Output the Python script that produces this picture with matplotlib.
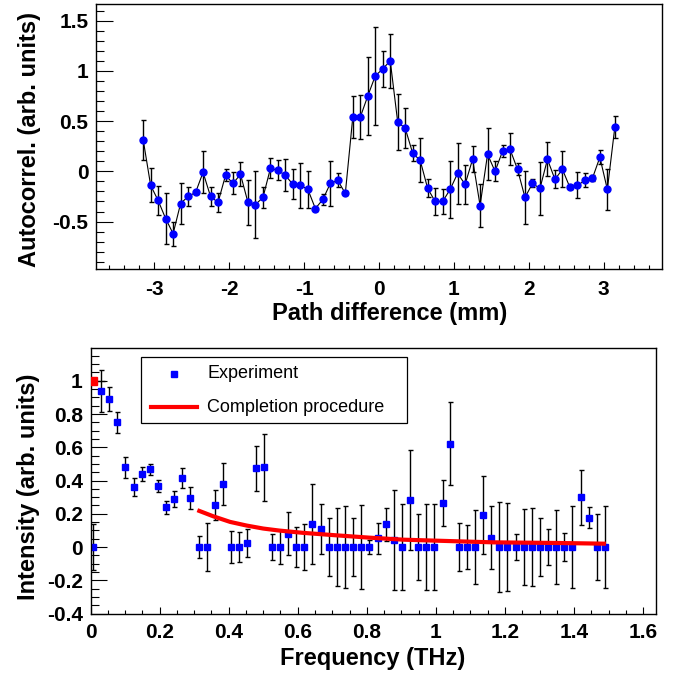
import matplotlib
matplotlib.use("Agg")
import matplotlib.pyplot as plt
from matplotlib.ticker import MultipleLocator
from matplotlib.patches import Rectangle
from matplotlib.lines import Line2D

# ---- top panel: autocorrelation ----
path_mm = [-3.15, -3.05, -2.95, -2.85, -2.75, -2.65, -2.55, -2.45, -2.35, -2.25,
           -2.15, -2.05, -1.95, -1.85, -1.75, -1.65, -1.55, -1.45, -1.35, -1.25,
           -1.15, -1.05, -0.95, -0.85, -0.75, -0.65, -0.55, -0.45, -0.35, -0.25,
           -0.15, -0.05, 0.05, 0.15, 0.25, 0.35, 0.45, 0.55, 0.65, 0.75,
           0.85, 0.95, 1.05, 1.15, 1.25, 1.35, 1.45, 1.55, 1.65, 1.75,
           1.85, 1.95, 2.05, 2.15, 2.25, 2.35, 2.45, 2.55, 2.65, 2.75,
           2.85, 2.95, 3.05, 3.15]
autocorr = [0.315, -0.14, -0.29, -0.47, -0.62, -0.32, -0.25, -0.21, -0.01, -0.25,
            -0.31, -0.04, -0.12, -0.03, -0.31, -0.33, -0.26, 0.03, 0.01, -0.04,
            -0.13, -0.14, -0.18, -0.37, -0.28, -0.12, -0.09, -0.22, 0.54, 0.54,
            0.75, 0.95, 1.02, 1.10, 0.49, 0.43, 0.18, 0.11, -0.17, -0.30,
            -0.30, -0.18, -0.02, -0.13, 0.12, -0.34, 0.17, 0.0, 0.20, 0.22,
            0.02, -0.26, -0.12, -0.17, 0.12, -0.08, 0.02, -0.16, -0.14, -0.09,
            -0.07, 0.14, -0.18, 0.44]
autocorr_err = [0.20, 0.17, 0.14, 0.25, 0.12, 0.20, 0.09, 0.02, 0.21, 0.09,
                0.09, 0.06, 0.11, 0.12, 0.22, 0.33, 0.10, 0.10, 0.10, 0.16,
                0.15, 0.22, 0.18, 0.02, 0.05, 0.22, 0.07, 0.02, 0.21, 0.22,
                0.39, 0.49, 0.18, 0.27, 0.28, 0.20, 0.08, 0.22, 0.09, 0.13,
                0.12, 0.28, 0.30, 0.19, 0.13, 0.21, 0.26, 0.10, 0.06, 0.16,
                0.06, 0.26, 0.04, 0.26, 0.17, 0.09, 0.18, 0.02, 0.13, 0.07,
                0.03, 0.07, 0.20, 0.11]

# ---- bottom panel: spectrum ----
freq_thz = [0.007, 0.031, 0.054, 0.078, 0.101, 0.125, 0.148, 0.172, 0.195, 0.219,
            0.242, 0.266, 0.289, 0.313, 0.336, 0.360, 0.383, 0.407, 0.431, 0.454,
            0.478, 0.501, 0.525, 0.548, 0.572, 0.595, 0.619, 0.642, 0.666, 0.689,
            0.713, 0.736, 0.760, 0.783, 0.807, 0.831, 0.854, 0.878, 0.901, 0.925,
            0.948, 0.972, 0.995, 1.019, 1.042, 1.066, 1.089, 1.113, 1.136, 1.160,
            1.183, 1.207, 1.231, 1.254, 1.278, 1.301, 1.325, 1.348, 1.372, 1.395,
            1.419, 1.442, 1.466, 1.489]
intensity = [0.0, 0.936, 0.891, 0.75, 0.479, 0.36, 0.437, 0.467, 0.368, 0.239,
             0.288, 0.416, 0.292, 0.0, 0.0, 0.25, 0.38, 0.0, 0.0, 0.022,
             0.473, 0.479, 0.0, 0.0, 0.08, 0.0, 0.0, 0.137, 0.109, 0.0,
             0.0, 0.0, 0.0, 0.0, 0.0, 0.052, 0.137, 0.04, 0.0, 0.282,
             0.0, 0.0, 0.0, 0.264, 0.622, 0.0, 0.0, 0.0, 0.193, 0.056,
             0.0, 0.0, 0.0, 0.0, 0.0, 0.0, 0.0, 0.0, 0.0, 0.0,
             0.298, 0.177, 0.0, 0.0]
intensity_err = [0.14, 0.126, 0.07, 0.065, 0.065, 0.053, 0.043, 0.032, 0.035, 0.04,
                 0.05, 0.06, 0.066, 0.066, 0.143, 0.09, 0.125, 0.097, 0.088, 0.084,
                 0.135, 0.20, 0.08, 0.10, 0.13, 0.12, 0.14, 0.24, 0.15, 0.175,
                 0.235, 0.245, 0.177, 0.25, 0.044, 0.093, 0.10, 0.30, 0.26, 0.30,
                 0.197, 0.257, 0.26, 0.14, 0.25, 0.145, 0.13, 0.225, 0.233, 0.19,
                 0.268, 0.262, 0.076, 0.231, 0.235, 0.177, 0.107, 0.221, 0.087, 0.247,
                 0.168, 0.063, 0.20, 0.248]

# completion procedure curve
comp_freq = [0.315, 0.355, 0.404, 0.452, 0.500, 0.546, 0.616, 0.713, 0.809,
             0.906, 1.002, 1.099, 1.166, 1.262, 1.359, 1.486]
comp_int = [0.217, 0.185, 0.151, 0.129, 0.111, 0.099, 0.085, 0.070, 0.056,
            0.044, 0.038, 0.032, 0.028, 0.026, 0.024, 0.020]
# normalisation point at zero frequency
norm_freq = [0.007]
norm_int = [1.0]

W, H = 683, 679
plt.rcParams["font.family"] = ["Liberation Sans", "DejaVu Sans"]
plt.rcParams["axes.unicode_minus"] = False
fig = plt.figure(figsize=(W / 100, H / 100), dpi=100)


def px(x, y):
    return x / W, 1 - y / H


def style_axis(ax, xmaj, xmin, ymaj, ymin, ylen, xpad):
    ax.xaxis.set_major_locator(MultipleLocator(xmaj))
    ax.xaxis.set_minor_locator(MultipleLocator(xmin))
    ax.yaxis.set_major_locator(MultipleLocator(ymaj))
    ax.yaxis.set_minor_locator(MultipleLocator(ymin))
    ax.tick_params(axis="both", which="both", direction="in", top=False, right=False,
                   width=0.8, labelsize=15)
    ax.tick_params(axis="y", which="major", length=ylen, pad=5.5)
    ax.tick_params(axis="y", which="minor", length=ylen / 2)
    ax.tick_params(axis="x", which="major", length=5.2, pad=xpad)
    ax.tick_params(axis="x", which="minor", length=2.6)
    for lab in ax.get_xticklabels() + ax.get_yticklabels():
        lab.set_fontweight("bold")
    for s in ax.spines.values():
        s.set_linewidth(1.0)


fmt = plt.FuncFormatter(lambda v, p: f"{v:g}")

# top panel
ax1 = fig.add_axes([96 / W, 1 - 269 / H, 566 / W, 265 / H])
ax1.errorbar(path_mm, autocorr, yerr=autocorr_err, fmt="o-", color="black", lw=0.8,
             mfc="#0000ff", mec="#0000ff", ms=5, ecolor="black", elinewidth=1.0,
             capsize=1.8, capthick=1.0)
ax1.set_xlim(-3.78, 3.78)
ax1.set_ylim(-0.972, 1.666)
style_axis(ax1, 1, 0.2, 0.5, 0.1, 12, 8)
ax1.xaxis.set_major_formatter(fmt)
ax1.yaxis.set_major_formatter(fmt)
ax1.set_xlabel("Path difference (mm)", fontsize=17, fontweight="bold")
ax1.set_ylabel("Autocorrel. (arb. units)", fontsize=17, fontweight="bold")
ax1.xaxis.label.set_va("center")
ax1.yaxis.label.set_va("center")
ax1.xaxis.set_label_coords((390 - 96) / 566, (269 - 314) / 265)
ax1.yaxis.set_label_coords((30 - 96) / 566, 0.49)

# bottom panel
ax2 = fig.add_axes([90.5 / W, 1 - 613.5 / H, 565.5 / W, 265.5 / H])
ax2.errorbar(freq_thz, intensity, yerr=intensity_err, fmt="s", mfc="#0000ff",
             mec="#0000ff", ms=5, ecolor="black", elinewidth=1.0, capsize=1.8,
             capthick=1.0, zorder=2)
ax2.plot(comp_freq, comp_int, color="#ff0000", lw=3, zorder=3)
ax2.errorbar(norm_freq, norm_int, xerr=0.035, fmt="s", mfc="#ff0000", mec="#ff0000",
             ms=5.5, ecolor="black", elinewidth=1.0, capsize=0, zorder=3)
ax2.set_xlim(0, 1.637)
ax2.set_ylim(-0.4, 1.197)
style_axis(ax2, 0.2, 0.05, 0.2, 0.05, 11.5, 7)
ax2.xaxis.set_major_formatter(fmt)
ax2.yaxis.set_major_formatter(fmt)
ax2.set_xlabel("Frequency (THz)", fontsize=17, fontweight="bold")
ax2.set_ylabel("Intensity (arb. units)", fontsize=17, fontweight="bold")
ax2.xaxis.label.set_va("center")
ax2.yaxis.label.set_va("center")
ax2.xaxis.set_label_coords((373 - 90.5) / 565.5, (613.5 - 659) / 265.5)
ax2.yaxis.set_label_coords((28.5 - 90.5) / 565.5, 0.476)

# legend box drawn by hand to match the ROOT layout
x0, y0 = px(140.7, 423.3)
fig.patches.append(Rectangle((x0, y0), 266 / W, 66.6 / H, transform=fig.transFigure,
                             fill=True, facecolor="white", edgecolor="black", lw=0.9,
                             zorder=5))
mx, my = px(174.3, 374)
fig.lines.append(Line2D([mx], [my], marker="s", ms=5, color="#0000ff",
                        transform=fig.transFigure, zorder=6))
lx0, ly = px(151, 406.7)
lx1, _ = px(196.7, 406.7)
fig.lines.append(Line2D([lx0, lx1], [ly, ly], color="#ff0000", lw=3,
                        transform=fig.transFigure, zorder=6))
tx, ty = px(207.3, 373.8)
fig.text(tx, ty, "Experiment", fontsize=13, va="center", ha="left", zorder=6)
tx, ty = px(207.3, 407.2)
fig.text(tx, ty, "Completion procedure", fontsize=13, va="center", ha="left", zorder=6)

fig.savefig("out.png", dpi=100)
